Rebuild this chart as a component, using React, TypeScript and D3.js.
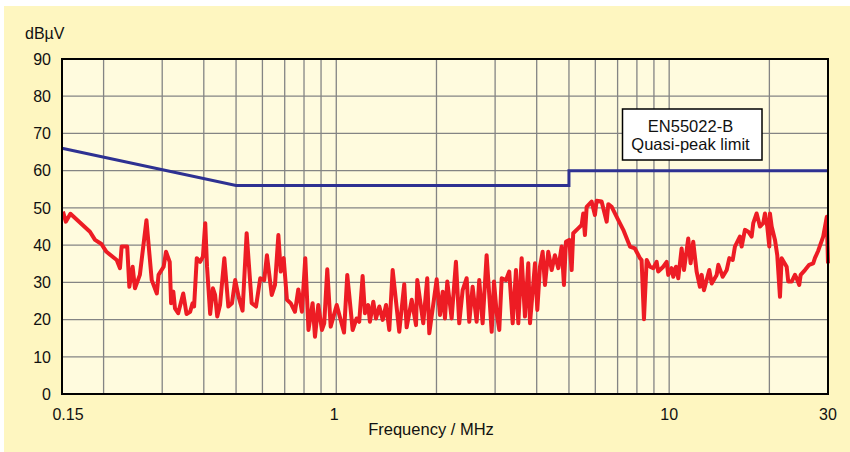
import React from "react";
import * as d3 from "d3";

// EN55022-B quasi-peak limit (MHz, dBµV)
const limitLine: [number, number][] = [
  [0.15, 66],
  [0.5, 56],
  [5, 56],
  [5, 60],
  [30, 60],
];

const measured: [number, number][] = [
  [0.151, 49.0], [0.154, 46.3], [0.159, 48.4], [0.182, 43.6], [0.1885, 41.4],
  [0.197, 40.3], [0.204, 38.2], [0.219, 36.0], [0.224, 33.8], [0.2266, 39.6],
  [0.2355, 39.6], [0.239, 28.8], [0.2445, 34.2], [0.2485, 28.4], [0.257, 32.0],
  [0.269, 46.7], [0.279, 30.6], [0.289, 27.0], [0.2925, 32.0], [0.303, 34.2],
  [0.308, 38.2], [0.316, 35.5], [0.319, 24.4], [0.324, 27.5], [0.3277, 23.0],
  [0.335, 21.7], [0.347, 27.0], [0.355, 21.5], [0.364, 22.1], [0.37, 24.4],
  [0.374, 23.5], [0.381, 36.5], [0.39, 35.5], [0.3975, 36.9], [0.404, 45.9],
  [0.409, 34.2], [0.418, 21.5], [0.426, 28.4], [0.4325, 26.6], [0.439, 20.8],
  [0.4475, 23.9], [0.461, 36.5], [0.474, 23.5], [0.486, 24.4], [0.497, 30.6],
  [0.509, 26.1], [0.523, 22.4], [0.538, 43.2], [0.557, 24.4], [0.574, 23.5],
  [0.591, 31.1], [0.6075, 30.6], [0.619, 37.3], [0.64, 26.6], [0.6545, 29.3],
  [0.67, 42.7], [0.681, 32.9], [0.695, 36.5], [0.711, 25.3], [0.7295, 24.4],
  [0.7515, 22.1], [0.769, 28.1], [0.7885, 22.1], [0.807, 36.5], [0.825, 17.2],
  [0.849, 24.4], [0.863, 15.4], [0.883, 23.9], [0.9056, 17.2], [0.92, 19.0],
  [0.9396, 33.5], [0.962, 18.1], [1.003, 23.9], [1.055, 16.5], [1.079, 32.0],
  [1.12, 17.2], [1.151, 20.3], [1.172, 19.4], [1.2, 31.7], [1.219, 21.7],
  [1.247, 23.9], [1.262, 19.4], [1.292, 24.8], [1.316, 20.3], [1.347, 23.5],
  [1.379, 19.9], [1.411, 23.9], [1.443, 17.2], [1.477, 33.3], [1.546, 16.7],
  [1.6, 29.5], [1.627, 17.9], [1.685, 25.3], [1.736, 18.5], [1.751, 30.6],
  [1.825, 19.0], [1.876, 31.1], [1.903, 16.3], [2.003, 30.8], [2.049, 21.2],
  [2.088, 27.5], [2.121, 20.3], [2.155, 30.2], [2.221, 20.3], [2.288, 35.5],
  [2.341, 19.0], [2.397, 27.9], [2.464, 31.1], [2.509, 19.4], [2.568, 28.8],
  [2.64, 19.4], [2.688, 30.6], [2.752, 19.0], [2.829, 37.3], [2.93, 16.7],
  [2.977, 30.2], [3.033, 21.7], [3.088, 17.2], [3.14, 31.1], [3.233, 30.6],
  [3.308, 32.9], [3.388, 19.0], [3.466, 33.3], [3.522, 19.0], [3.605, 36.5],
  [3.688, 20.8], [3.774, 35.1], [3.819, 19.0], [3.953, 35.1], [4.017, 22.6],
  [4.092, 34.2], [4.168, 38.2], [4.235, 29.3], [4.333, 38.2], [4.437, 33.3],
  [4.537, 37.3], [4.645, 33.8], [4.753, 39.6], [4.83, 29.3], [4.897, 40.9],
  [5.01, 41.4], [5.094, 33.3], [5.15, 43.2], [5.33, 44.5], [5.458, 45.4],
  [5.519, 48.5], [5.584, 42.7], [5.651, 50.3], [5.848, 51.7], [5.983, 48.1],
  [6.054, 51.9], [6.267, 51.7], [6.491, 46.3], [6.563, 51.0], [6.72, 50.3],
  [7.034, 46.7], [7.28, 44.1], [7.625, 39.6], [7.889, 39.1], [8.168, 36.5],
  [8.263, 36.0], [8.4, 20.1], [8.559, 36.0], [8.755, 34.2], [8.957, 33.8],
  [9.169, 35.5], [9.27, 32.9], [9.6, 34.2], [9.829, 35.5], [9.938, 32.0],
  [10.17, 33.8], [10.29, 31.5], [10.48, 34.2], [10.65, 31.1], [10.9, 39.1],
  [11.08, 33.3], [11.41, 41.8], [11.6, 35.1], [11.81, 40.9], [12.09, 32.9],
  [12.37, 28.8], [12.52, 32.0], [12.72, 27.9], [12.96, 30.6], [13.2, 33.3],
  [13.42, 29.7], [13.89, 32.0], [14.05, 34.7], [14.48, 31.5], [14.89, 33.3],
  [15.16, 36.5], [15.52, 36.0], [15.76, 39.6], [16.31, 42.3], [16.51, 39.6],
  [16.89, 44.1], [17.28, 43.6], [17.69, 42.3], [17.89, 45.9], [18.31, 48.5],
  [18.74, 45.0], [19.17, 45.9], [19.4, 48.5], [19.71, 45.0], [19.99, 39.6],
  [20.08, 48.5], [20.32, 45.0], [20.79, 41.4], [21.12, 37.3], [21.52, 26.1],
  [21.77, 36.5], [22.54, 34.2], [22.79, 30.2], [23.33, 30.2], [23.87, 32.0],
  [24.15, 31.1], [24.59, 29.3], [24.83, 32.0], [25.58, 33.3], [26.34, 34.7],
  [27.08, 35.1], [27.4, 36.5], [28.04, 38.5], [29.02, 42.3], [29.75, 47.6],
  [30, 35.1],
];

const gridFreqs = [
  0.2, 0.3, 0.4, 0.5, 0.6, 0.7, 0.8, 0.9, 1,
  2, 3, 4, 5, 6, 7, 8, 9, 10, 20,
];
const gridLevels = [10, 20, 30, 40, 50, 60, 70, 80];
const yTicks = [0, 10, 20, 30, 40, 50, 60, 70, 80, 90];
const xTickLabels: [number, string][] = [
  [0.15, "0.15"],
  [1, "1"],
  [10, "10"],
  [30, "30"],
];

const W = 850;
const H = 452;
const plot = { left: 62, right: 828, top: 59, bottom: 394 };
const font = "Arial, 'Liberation Sans', Helvetica, sans-serif";

export default function App() {
  const x = d3.scaleLog().domain([0.15, 30]).range([plot.left, plot.right]);
  const y = d3.scaleLinear().domain([0, 90]).range([plot.bottom, plot.top]);

  const line = d3
    .line<[number, number]>()
    .x((d) => x(d[0]))
    .y((d) => y(d[1]));

  return (
    <svg
      width={W}
      height={H}
      style={{ position: "absolute", left: 0, top: 0, display: "block" }}
      fontFamily={font}
    >
      <rect x={0} y={0} width={W} height={H} fill="#ffffff" />
      <rect x={4} y={6} width={W - 4} height={H - 6} fill="#fef6c0" />

      {/* plot area */}
      <rect
        x={plot.left}
        y={plot.top}
        width={plot.right - plot.left}
        height={plot.bottom - plot.top}
        fill="#fffbde"
      />

      {/* grid */}
      <g stroke="#848484" strokeWidth={1.3}>
        {gridFreqs.map((f) => (
          <line key={"v" + f} x1={x(f)} x2={x(f)} y1={plot.top} y2={plot.bottom} />
        ))}
        {gridLevels.map((v) => (
          <line key={"h" + v} x1={plot.left} x2={plot.right} y1={y(v)} y2={y(v)} />
        ))}
      </g>

      {/* limit line */}
      <path
        d={line(limitLine) || ""}
        fill="none"
        stroke="#2e3192"
        strokeWidth={3}
      />

      {/* measurement */}
      <path
        d={line(measured) || ""}
        fill="none"
        stroke="#ed1c24"
        strokeWidth={4}
        strokeLinejoin="round"
      />

      {/* frame */}
      <rect
        x={plot.left}
        y={plot.top}
        width={plot.right - plot.left}
        height={plot.bottom - plot.top}
        fill="none"
        stroke="#000"
        strokeWidth={2}
      />

      {/* y axis labels */}
      <g fontSize={16} fill="#111" textAnchor="end">
        {yTicks.map((v) => (
          <text key={v} x={51} y={y(v)} dy="0.36em">
            {v}
          </text>
        ))}
      </g>
      <text x={25} y={39} fontSize={16} fill="#111">
        dBµV
      </text>

      {/* x axis labels */}
      <g fontSize={16} fill="#111" textAnchor="middle">
        {xTickLabels.map(([f, s]) => (
          <text key={s} x={x(f) + (f === 0.15 ? 6 : f === 1 ? -2 : 0)} y={420}>
            {s}
          </text>
        ))}
      </g>
      <text x={431} y={435} fontSize={16.5} fill="#111" textAnchor="middle">
        Frequency / MHz
      </text>

      {/* legend box */}
      <rect
        x={622.5}
        y={109}
        width={139.5}
        height={51}
        fill="#ffffff"
        stroke="#000"
        strokeWidth={1.5}
      />
      <g fontSize={16.5} fill="#111" textAnchor="middle">
        <text x={690.5} y={131.5}>EN55022-B</text>
        <text x={690.5} y={150}>Quasi-peak limit</text>
      </g>
    </svg>
  );
}
